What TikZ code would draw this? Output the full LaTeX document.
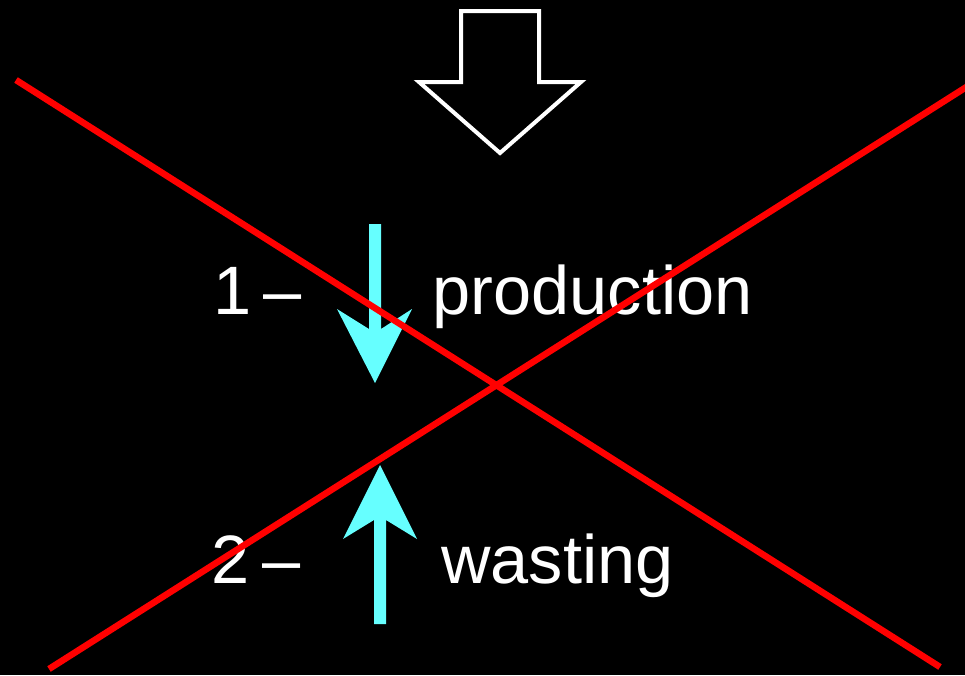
\documentclass[tikz,border=0pt]{standalone}
\usepackage{fontspec}
\setmainfont{Liberation Sans}
\definecolor{cyanarrow}{RGB}{102,255,255}
\definecolor{redline}{RGB}{255,0,0}
\tikzset{
  lbl/.style={text=white, inner sep=0pt, anchor=base west, font=\fontsize{68.5}{80}\selectfont},
  cyanar/.style={fill=cyanarrow, draw=none},
  cross/.style={draw=redline, line width=6.5pt},
  hollow/.style={draw=white, line width=4pt, line join=miter}
}
\begin{document}
\begin{tikzpicture}[x=1pt,y=-1pt]
\useasboundingbox (0,0) rectangle (965,675);
\fill[black] (0,0) rectangle (965,675);
% hollow white arrow
\draw[hollow] (461,11) -- (539,11) -- (539,82) -- (581,82) -- (500,153) -- (419,82) -- (461,82) -- cycle;
% texts
\node[lbl] (t1) at (213,314) {1\hspace{0.18em}–};
\node[lbl] (p) at (432.5,314) {production};
\node[lbl] (t2) at (211,583) {2\hspace{0.2em}–};
\node[lbl] (w) at (441,583) {wasting};
% cyan arrows
\fill[cyanar] (369,224) -- (381,224) -- (381,329) -- (412,309) -- (375,383) -- (337,309) -- (369,329) -- cycle;
\fill[cyanar] (374,624) -- (386,624) -- (386,520) -- (417,539) -- (380,465) -- (343,539) -- (374,520) -- cycle;
% red cross
\coordinate (a1) at (16,80);
\coordinate (a2) at (940,667);
\coordinate (b1) at (49,669);
\coordinate (b2) at (968,86);
\draw[cross] (a1) -- (a2);
\draw[cross] (b1) -- (b2);
\end{tikzpicture}
\end{document}
